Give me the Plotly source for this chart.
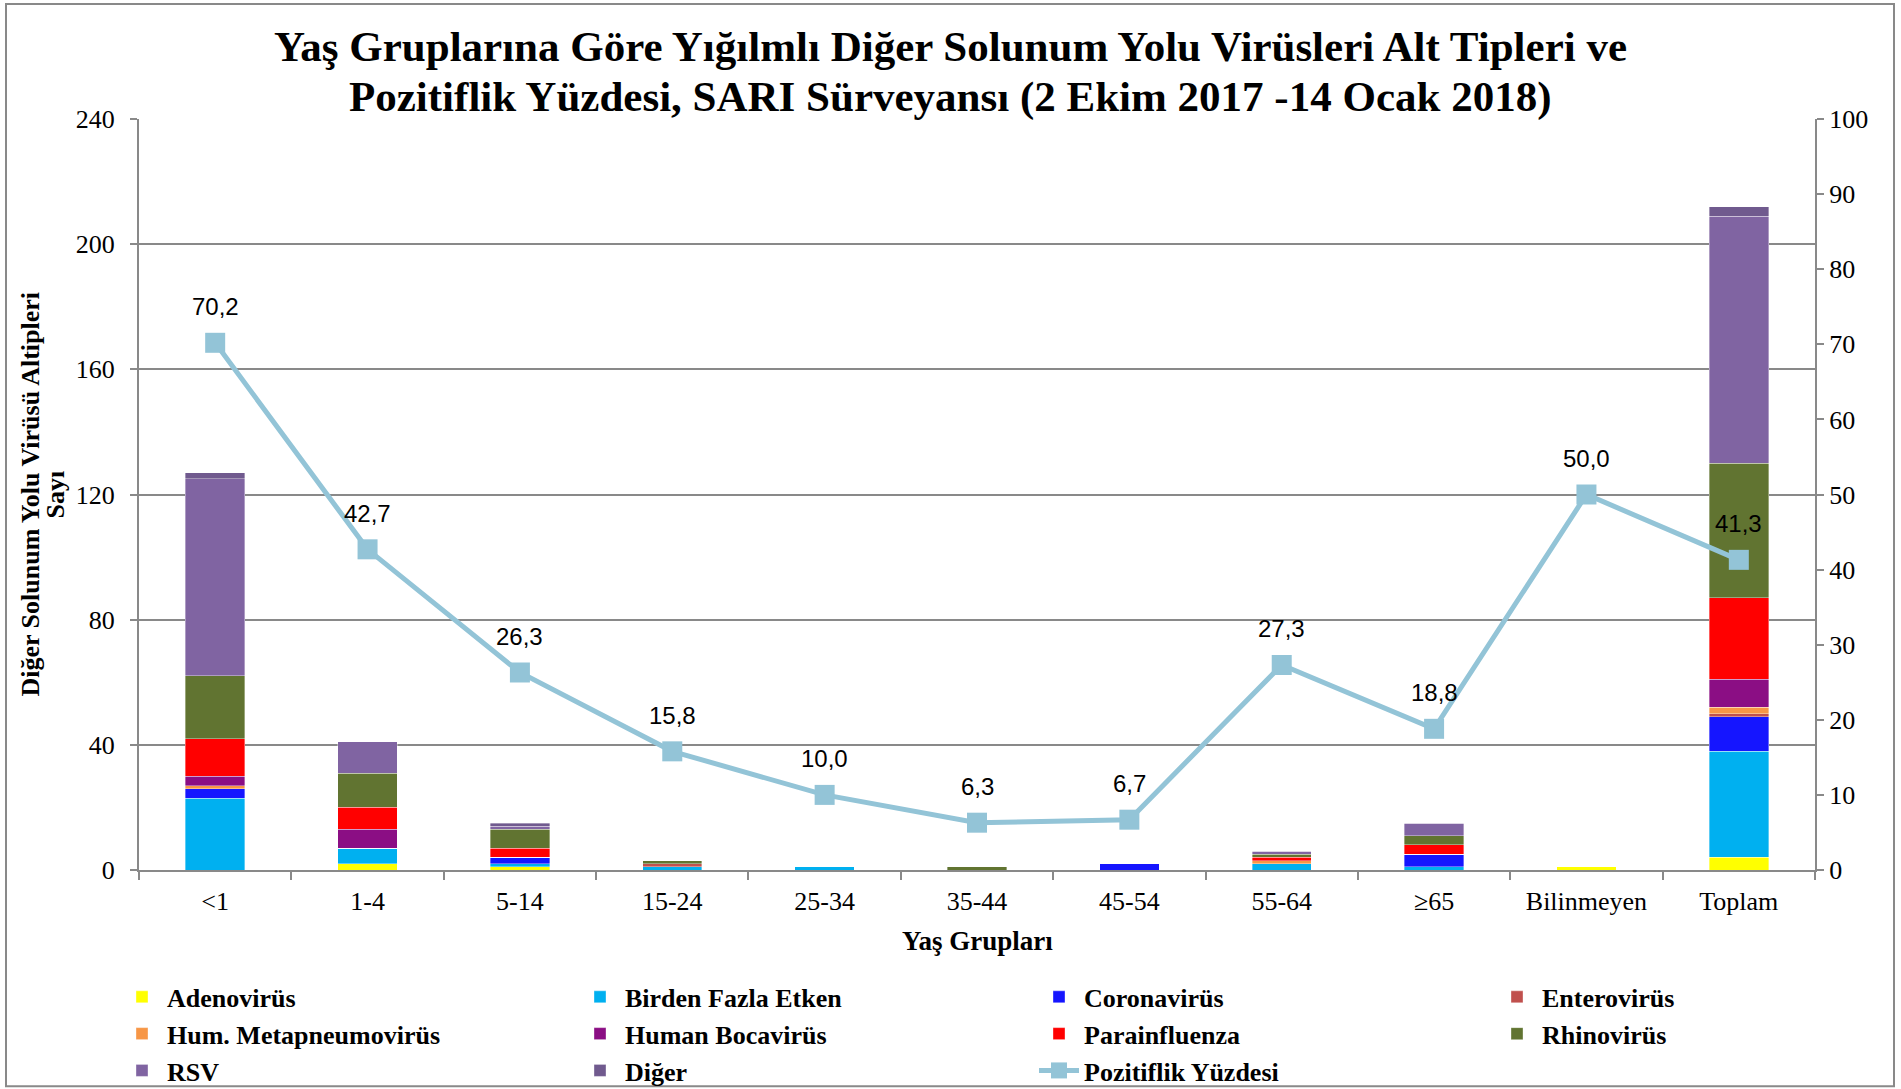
import plotly.graph_objects as go

categories = ["<1", "1-4", "5-14", "15-24", "25-34", "35-44", "45-54", "55-64", "≥65", "Bilinmeyen", "Toplam"]

adenovirus   = [0, 2, 1, 0, 0, 0, 0, 0, 0, 1, 4]
birden_fazla = [23, 5, 1, 1, 1, 0, 0, 2, 1, 0, 34]
coronavirus  = [3, 0, 2, 0, 0, 0, 2, 0, 4, 0, 11]
enterovirus  = [0, 0, 0, 1, 0, 0, 0, 0, 0, 0, 1]
hum_metapneumo = [1, 0, 0, 0, 0, 0, 0, 1, 0, 0, 2]
human_bocavirus = [3, 6, 0, 0, 0, 0, 0, 0, 0, 0, 9]
parainfluenza = [12, 7, 3, 0, 0, 0, 0, 1, 3, 0, 26]
rhinovirus   = [20, 11, 6, 1, 0, 1, 0, 1, 3, 0, 43]
rsv          = [63, 10, 1, 0, 0, 0, 0, 1, 4, 0, 79]
diger        = [2, 0, 1, 0, 0, 0, 0, 0, 0, 0, 3]
pozitiflik   = [70.2, 42.7, 26.3, 15.8, 10.0, 6.3, 6.7, 27.3, 18.8, 50.0, 41.3]

title_lines = [
    "Yaş Gruplarına Göre Yığılmlı Diğer Solunum Yolu Virüsleri Alt Tipleri ve",
    "Pozitiflik Yüzdesi, SARI Sürveyansı (2 Ekim 2017 -14 Ocak 2018)",
]
y_title_lines = ["Diğer Solunum Yolu Virüsü Altipleri", "Sayı"]
x_title = "Yaş Grupları"

# name, values, colour, legend column
series = [
    ("Adenovirüs", adenovirus, "#FFFF00", "legend"),
    ("Birden Fazla Etken", birden_fazla, "#00B0F0", "legend2"),
    ("Coronavirüs", coronavirus, "#1515FF", "legend3"),
    ("Enterovirüs", enterovirus, "#C0504D", "legend4"),
    ("Hum. Metapneumovirüs", hum_metapneumo, "#F79646", "legend"),
    ("Human Bocavirüs", human_bocavirus, "#8B0E84", "legend2"),
    ("Parainfluenza", parainfluenza, "#FF0000", "legend3"),
    ("Rhinovirüs", rhinovirus, "#617431", "legend4"),
    ("RSV", rsv, "#8064A2", "legend"),
    ("Diğer", diger, "#705A8E", "legend2"),
]

SERIF = "Liberation Serif, Times New Roman, serif"
SANS = "Liberation Sans, Arial, sans-serif"
LINE_COL = "#93C4D7"
GRID = "#898989"

fig = go.Figure()
for name, vals, col, leg in series:
    fig.add_trace(go.Bar(
        x=categories, y=vals, name=name, legend=leg,
        marker=dict(color=col, line=dict(color="rgba(255,255,255,0.6)", width=0.6)),
    ))

fig.add_trace(go.Scatter(
    x=categories, y=pozitiflik, name="Pozitiflik Yüzdesi", yaxis="y2", legend="legend3",
    mode="lines+markers",
    line=dict(color=LINE_COL, width=5),
    marker=dict(symbol="square", size=20, color=LINE_COL),
    cliponaxis=False,
))

L, R, T, B = 139, 86, 119, 218.5
W, H = 1901, 1089
pw = W - L - R
ph = H - T - B


def py(pix):  # pixel y (from top) -> paper y
    return (H - B - pix) / ph


def px(pix):  # pixel x (from left) -> paper x
    return (pix - L) / pw


annotations = []
for c, v in zip(categories, pozitiflik):
    annotations.append(dict(
        x=c, y=v, xref="x", yref="y2", yshift=36, showarrow=False,
        text=f"{v:.1f}".replace(".", ","),
        font=dict(family=SANS, size=24, color="#000000"),
        xanchor="center", yanchor="middle",
    ))
for txt, ypix in zip(title_lines, [46, 97]):
    annotations.append(dict(
        x=px(950), y=py(ypix), xref="paper", yref="paper", showarrow=False,
        text=f"<b>{txt}</b>", xanchor="center", yanchor="middle",
        font=dict(family=SERIF, size=43, color="#000000"),
    ))
for txt, xpix in zip(y_title_lines, [30, 55]):
    annotations.append(dict(
        x=px(xpix), y=0.5, xref="paper", yref="paper", showarrow=False,
        text=f"<b>{txt}</b>", textangle=-90, xanchor="center", yanchor="middle",
        font=dict(family=SERIF, size=26, color="#000000"),
    ))
annotations.append(dict(
    x=0.5, y=py(942), xref="paper", yref="paper", showarrow=False,
    text=f"<b>{x_title}</b>", xanchor="center", yanchor="middle",
    font=dict(family=SERIF, size=27, color="#000000"),
))

legend_common = dict(
    orientation="v", traceorder="normal", yanchor="top", xanchor="left",
    y=py(974), font=dict(family=SERIF, size=26, color="#000000", weight="bold"),
    itemwidth=40, tracegroupgap=0, bgcolor="rgba(0,0,0,0)",
)
legend_x = [117, 575, 1034, 1492]

fig.update_layout(
    width=W, height=H,
    margin=dict(l=L, r=R, t=T, b=B, pad=0, autoexpand=False),
    paper_bgcolor="white", plot_bgcolor="white",
    barmode="stack", bargap=0.61,
    font=dict(family=SERIF, size=26, color="#000000"),
    annotations=annotations,
    xaxis=dict(
        type="category", range=[-0.5, len(categories) - 0.5],
        tickson="boundaries", ticks="outside", ticklen=8,
        tickcolor=GRID, tickwidth=2,
        showline=True, linecolor=GRID, linewidth=2,
        showgrid=False,
        tickfont=dict(family=SERIF, size=26),
        ticklabelstandoff=7,
    ),
    yaxis=dict(
        range=[0, 240], dtick=40, tick0=0,
        ticks="outside", ticklen=7, tickcolor=GRID, tickwidth=2,
        showline=True, linecolor=GRID, linewidth=2,
        showgrid=True, gridcolor=GRID, gridwidth=2,
        zeroline=False,
        tickfont=dict(family=SERIF, size=26),
        ticklabelstandoff=10,
    ),
    yaxis2=dict(
        range=[0, 100], dtick=10, tick0=0, overlaying="y", side="right",
        ticks="outside", ticklen=7, tickcolor=GRID, tickwidth=2,
        showline=True, linecolor=GRID, linewidth=2,
        showgrid=False, zeroline=False,
        tickfont=dict(family=SERIF, size=26),
    ),
    legend=dict(x=px(legend_x[0]), **legend_common),
    legend2=dict(x=px(legend_x[1]), **legend_common),
    legend3=dict(x=px(legend_x[2]), **legend_common),
    legend4=dict(x=px(legend_x[3]), **legend_common),
    showlegend=True,
)

fig.add_shape(
    type="rect", xref="paper", yref="paper",
    x0=px(6), x1=px(1894), y0=py(1087), y1=py(4),
    line=dict(color=GRID, width=2), fillcolor="rgba(0,0,0,0)", layer="below",
)

fig.write_html("out.html", config={"displayModeBar": False},
               post_script="document.body.style.margin='0';")
